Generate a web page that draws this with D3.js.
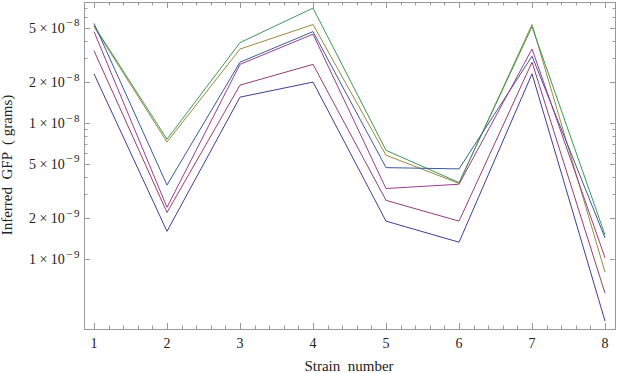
<!DOCTYPE html>
<html>
<head>
<meta charset="utf-8">
<script src="https://cdn.jsdelivr.net/npm/d3@7"></script>
<style>
  body { margin: 0; background: #fff; }
  svg text { font-family: "Liberation Serif", "Times New Roman", serif; fill: #222; }
</style>
</head>
<body>
<svg id="chart" width="617" height="373"></svg>
<script>
// strain numbers on the x axis
const strains = [1, 2, 3, 4, 5, 6, 7, 8]

// inferred GFP (grams), one array per curve
const s1 = [2.3e-8, 1.6e-9, 1.55e-8, 2.0e-8, 1.9e-9, 1.33e-9, 2.3e-8, 3.5e-10]
const s2 = [3.4e-8, 2.2e-9, 1.9e-8, 2.7e-8, 2.7e-9, 1.9e-9, 2.8e-8, 5.6e-10]
const s3 = [5.1e-8, 7.25e-9, 3.5e-8, 5.3e-8, 5.8e-9, 3.6e-9, 5.3e-8, 8.0e-10]
const s4 = [5.2e-8, 7.6e-9, 3.9e-8, 7.0e-8, 6.3e-9, 3.65e-9, 5.1e-8, 1.5e-9]
const s5 = [5.4e-8, 3.5e-9, 2.8e-8, 4.7e-8, 4.7e-9, 4.6e-9, 3.1e-8, 1.43e-9]
const s6 = [4.7e-8, 2.4e-9, 2.7e-8, 4.5e-8, 3.3e-9, 3.55e-9, 3.5e-8, 1.02e-9]
const seriesList = [s1, s2, s3, s4, s5, s6]
const colors = ["#3f3d99", "#993d71", "#998b3d", "#3d9956", "#3d5a99", "#993d90"]

// labelled y ticks: [mantissa, exponent]
const yMajor = [[1, -9], [2, -9], [5, -9], [1, -8], [2, -8], [5, -8]]
const yMinor = [3e-9, 4e-9, 6e-9, 7e-9, 8e-9, 9e-9, 3e-8, 4e-8, 6e-8, 7e-8]

const svg = d3.select("#chart")
const mLeft = 84, mRight = 616, mTop = 2, mBottom = 329

const x = d3.scaleLinear().domain([0.863, 8.15]).range([mLeft, mRight])
const y = d3.scaleLog().domain([3.06e-10, 7.76e-8]).range([mBottom, mTop])

const frameColor = "#999"

// curves
const line = d3.line().x((d, i) => x(strains[i])).y(d => y(d))
seriesList.forEach((s, k) => {
  svg.append("path")
    .attr("d", line(s))
    .attr("fill", "none")
    .attr("stroke", colors[k])
    .attr("stroke-width", 1)
})

// frame
svg.append("rect")
  .attr("x", mLeft + 0.5).attr("y", mTop + 0.5)
  .attr("width", mRight - mLeft - 1).attr("height", mBottom - mTop)
  .attr("fill", "none").attr("stroke", frameColor)

// x ticks (bottom + mirrored top)
const xMinor = d3.range(1, 8.01, 0.2).filter(v => Math.abs(v - Math.round(v)) > 0.01)
const tickG = svg.append("g").attr("stroke", frameColor).attr("stroke-width", 1)
strains.forEach(v => {
  const px = Math.round(x(v)) + 0.5
  tickG.append("line").attr("x1", px).attr("x2", px).attr("y1", mBottom).attr("y2", mBottom - 6)
  tickG.append("line").attr("x1", px).attr("x2", px).attr("y1", mTop).attr("y2", mTop + 6)
})
xMinor.forEach(v => {
  const px = Math.round(x(v)) + 0.5
  tickG.append("line").attr("x1", px).attr("x2", px).attr("y1", mBottom).attr("y2", mBottom - 3.5)
  tickG.append("line").attr("x1", px).attr("x2", px).attr("y1", mTop).attr("y2", mTop + 3.5)
})

// y ticks (left + mirrored right)
yMajor.forEach(([m, e]) => {
  const py = Math.round(y(m * Math.pow(10, e))) + 0.5
  tickG.append("line").attr("x1", mLeft).attr("x2", mLeft + 6).attr("y1", py).attr("y2", py)
  tickG.append("line").attr("x1", mRight).attr("x2", mRight - 6).attr("y1", py).attr("y2", py)
})
yMinor.forEach(v => {
  const py = Math.round(y(v)) + 0.5
  tickG.append("line").attr("x1", mLeft).attr("x2", mLeft + 3.5).attr("y1", py).attr("y2", py)
  tickG.append("line").attr("x1", mRight).attr("x2", mRight - 3.5).attr("y1", py).attr("y2", py)
})

// x tick labels
strains.forEach(v => {
  svg.append("text")
    .attr("x", x(v)).attr("y", 348)
    .attr("text-anchor", "middle")
    .attr("font-size", 14)
    .text(v)
})

// y tick labels like 5 × 10^-8
yMajor.forEach(([m, e]) => {
  const t = svg.append("text")
    .attr("x", 81).attr("y", y(m * Math.pow(10, e)) + 5)
    .attr("text-anchor", "end")
    .attr("font-size", 14)
    .style("white-space", "pre")
  t.append("tspan").text(m + " \u00d7 10")
  t.append("tspan").attr("font-size", 11).attr("dy", -6.5).attr("dx", 1.5)
    .attr("letter-spacing", 1.5).text("\u2212" + (-e))
})

// axis titles
svg.append("text")
  .attr("x", 349).attr("y", 371)
  .attr("text-anchor", "middle")
  .attr("font-size", 15)
  .style("white-space", "pre")
  .text("Strain  number")

svg.append("text")
  .attr("transform", "translate(12,165) rotate(-90)")
  .attr("text-anchor", "middle")
  .attr("font-size", 15)
  .style("white-space", "pre")
  .text("Inferred  GFP  ( grams)")
</script>
</body>
</html>
